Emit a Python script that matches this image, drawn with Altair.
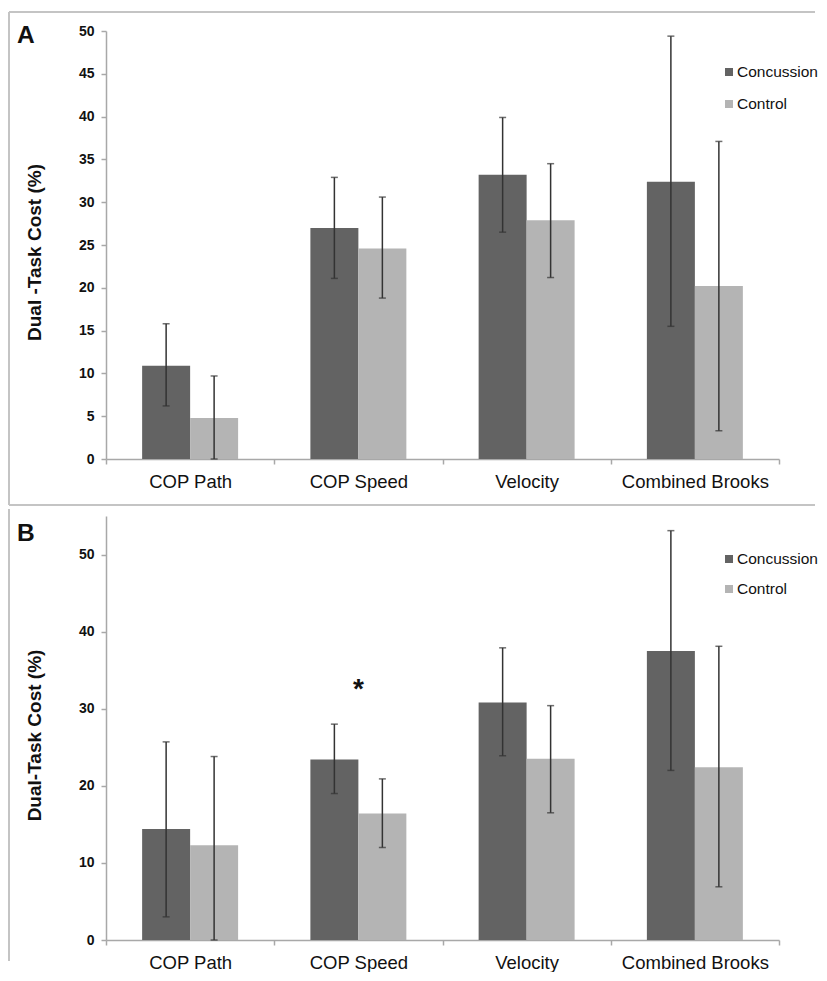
import altair as alt
import pandas as pd

categories = ["COP Path", "COP Speed", "Velocity", "Combined Brooks"]
groups = ["Concussion", "Control"]
colors = ["#636363", "#b4b4b4"]

# Panel A values (mean, lower and upper error bar ends)
a_conc_mean = [10.9, 27.0, 33.2, 32.4]
a_conc_lo = [6.2, 21.1, 26.5, 15.5]
a_conc_hi = [15.8, 32.9, 39.9, 49.4]
a_ctrl_mean = [4.8, 24.6, 27.9, 20.2]
a_ctrl_lo = [0.0, 18.8, 21.2, 3.3]
a_ctrl_hi = [9.7, 30.6, 34.5, 37.1]

# Panel B values
b_conc_mean = [14.4, 23.4, 30.8, 37.5]
b_conc_lo = [3.0, 19.0, 23.9, 22.0]
b_conc_hi = [25.7, 28.0, 37.9, 53.1]
b_ctrl_mean = [12.3, 16.4, 23.5, 22.4]
b_ctrl_lo = [0.0, 12.0, 16.5, 6.9]
b_ctrl_hi = [23.8, 20.9, 30.4, 38.1]

# significance marker in panel B
sig_category = ["COP Speed"]
sig_value = [31.4]

a_ticks = [0, 5, 10, 15, 20, 25, 30, 35, 40, 45, 50]
b_ticks = [0, 10, 20, 30, 40, 50]

FONT = "Liberation Sans"


def make_df(cm, cl, ch, km, kl, kh):
    rows = []
    for i, c in enumerate(categories):
        rows.append({"category": c, "group": groups[0], "mean": cm[i], "lo": cl[i], "hi": ch[i]})
        rows.append({"category": c, "group": groups[1], "mean": km[i], "lo": kl[i], "hi": kh[i]})
    return pd.DataFrame(rows)


def panel(df, ymax, ticks, ytitle, letter, height, letter_y, legend_y, legend_step,
          frame_lines, sig=None):
    x_enc = alt.X(
        "category:N", sort=categories, title=None,
        scale=alt.Scale(paddingInner=0, paddingOuter=0),
        axis=alt.Axis(title=None, labelAngle=0, tickBand="extent", labelFontSize=18.5,
                      labelFont=FONT, labelColor="#111", labelPadding=8, tickSize=5,
                      domainColor="#a8a8a8", tickColor="#a8a8a8", domainWidth=1.5, tickWidth=1.5),
    )
    xo = alt.XOffset("group:N", sort=groups, scale=alt.Scale(paddingInner=0, paddingOuter=0.753))
    yscale = alt.Scale(domain=[0, ymax], nice=False, zero=True)
    yaxis = alt.Axis(values=ticks, grid=False, labelFontSize=14, labelFontWeight="bold",
                     labelFont=FONT, labelColor="#111", tickSize=5, labelPadding=7,
                     domainColor="#a8a8a8", tickColor="#a8a8a8", domainWidth=1.5, tickWidth=1.5,
                     titleFontSize=19, titleFont=FONT, titleFontWeight="bold", titleColor="#111",
                     titleX=-62, titleY=height / 2 + 7)

    base = alt.Chart(df)
    bars = base.mark_bar().encode(
        x=x_enc, xOffset=xo,
        y=alt.Y("mean:Q", title=ytitle, scale=yscale, axis=yaxis),
        color=alt.Color("group:N", sort=groups, scale=alt.Scale(domain=groups, range=colors),
                        legend=None),
    )
    err = base.mark_rule(color="#333333", strokeWidth=1.5).encode(
        x=x_enc, xOffset=xo,
        y=alt.Y("lo:Q", title=ytitle, scale=yscale, axis=yaxis),
        y2="hi:Q",
    )
    cap_hi = base.mark_tick(color="#333333", size=7, thickness=1.5).encode(
        x=x_enc, xOffset=xo,
        y=alt.Y("hi:Q", title=ytitle, scale=yscale, axis=yaxis),
    )
    cap_lo = base.mark_tick(color="#333333", size=7, thickness=1.5).encode(
        x=x_enc, xOffset=xo,
        y=alt.Y("lo:Q", title=ytitle, scale=yscale, axis=yaxis),
    )
    one = alt.Data(values=[{"k": 0}])
    layers = [bars, err, cap_hi, cap_lo]

    fcol = "#c4c4c4"
    for (x1, x2, y1, y2) in frame_lines:
        enc = {"x": alt.value(x1), "y": alt.value(y1)}
        if x2 is not None:
            enc["x2"] = alt.value(x2)
        if y2 is not None:
            enc["y2"] = alt.value(y2)
        layers.append(alt.Chart(one).mark_rule(color=fcol, strokeWidth=2).encode(**enc))

    # legend (squares + labels), one entry per group
    for i, g in enumerate(groups):
        ly = legend_y + i * legend_step
        layers.append(alt.Chart(alt.Data(values=[{"g": g}])).mark_square(
            size=64, color=colors[i], opacity=1).encode(x=alt.value(623), y=alt.value(ly)))
        layers.append(alt.Chart(alt.Data(values=[{"g": g}])).mark_text(
            font=FONT, fontSize=15.5, align="left", baseline="middle", color="#111").encode(
            text="g:N", x=alt.value(631), y=alt.value(ly)))

    layers.append(alt.Chart(one).mark_text(text=letter, font=FONT, fontSize=24.5, fontWeight="bold",
                                           align="left", baseline="alphabetic", color="#111").encode(
        x=alt.value(-89), y=alt.value(letter_y)))

    if sig is not None:
        sdf = pd.DataFrame({"category": sig[0], "value": sig[1]})
        layers.append(alt.Chart(sdf).mark_text(text="*", font=FONT, fontSize=28, fontWeight="bold",
                                               baseline="alphabetic", color="#111").encode(
            x=alt.X("category:N", sort=categories, title=None),
            y=alt.Y("value:Q", title=ytitle, scale=yscale, axis=yaxis)))

    return alt.layer(*layers).properties(width=673, height=height)


dfA = make_df(a_conc_mean, a_conc_lo, a_conc_hi, a_ctrl_mean, a_ctrl_lo, a_ctrl_hi)
dfB = make_df(b_conc_mean, b_conc_lo, b_conc_hi, b_ctrl_mean, b_ctrl_lo, b_ctrl_hi)

chartA = panel(dfA, 50, a_ticks, "Dual -Task Cost (%)", "A", 428, 12, 41, 32,
               [(-97, 709, -19, None), (-97, None, -19, 474), (-97, 709, 474, None)])
chartB = panel(dfB, 55, b_ticks, "Dual-Task Cost (%)", "B", 424, 25, 43, 30,
               [(-97, None, -7, 445)], sig=(sig_category, sig_value))

chart = alt.vconcat(chartA, chartB, spacing=57, bounds="flush").properties(
    padding={"left": 0, "top": 3, "right": 0, "bottom": 0}
).configure(background="white").configure_view(strokeWidth=0, stroke="transparent")

chart.save("out.html", embed_options={"renderer": "svg", "actions": False})
